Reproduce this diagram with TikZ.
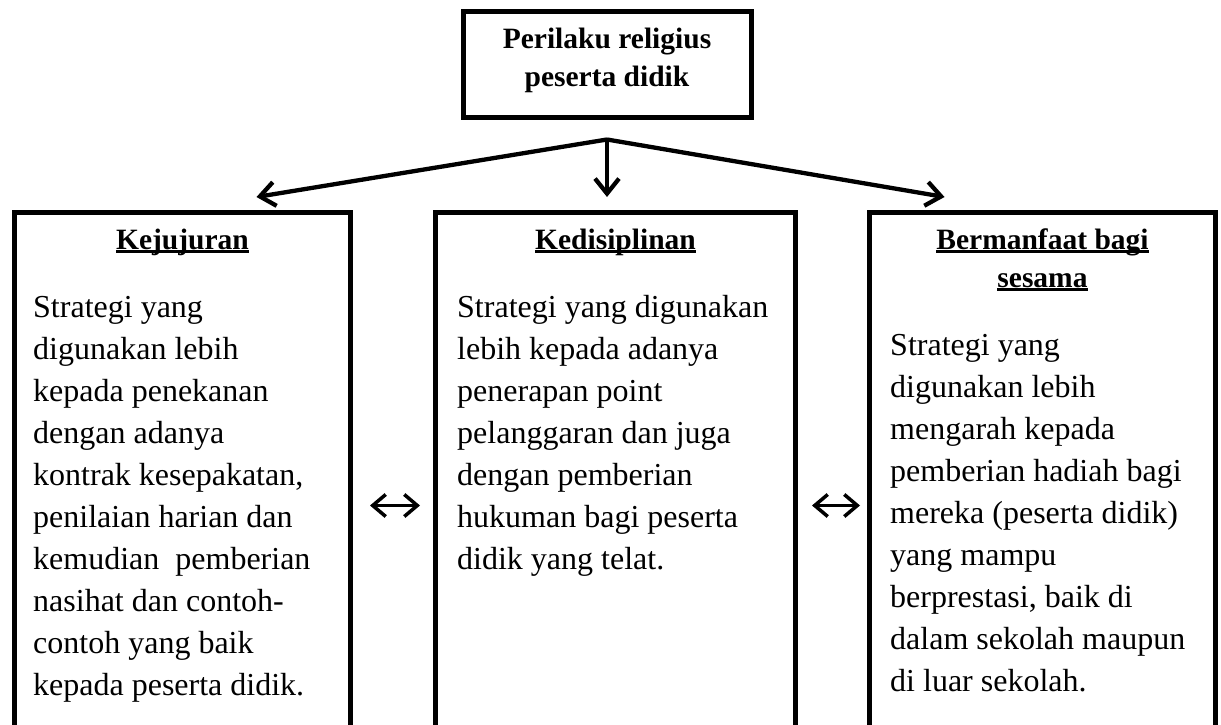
\documentclass[tikz,border=0pt]{standalone}
\usepackage{fontspec}
\setmainfont{Liberation Serif}
\usepackage{tikz}
\usetikzlibrary{positioning}
\usetikzlibrary{arrows.meta}
\tikzstyle{arrow} = [line width=4.3pt,-{Straight Barb[length=15pt,width=24pt]}]
\tikzstyle{twoway} = [line width=3.5pt,{Straight Barb[length=13pt,width=22pt]}-{Straight Barb[length=13pt,width=22pt]}]
\tikzstyle{topbox} = [draw,line width=5pt,minimum width=288pt,minimum height=105pt,inner sep=0pt]
\tikzstyle{colbox} = [draw,line width=5pt,anchor=north west,minimum height=586pt,inner sep=0pt]
\tikzstyle{head} = [inner sep=0pt,anchor=base,font=\headfont]
\tikzstyle{body} = [inner sep=0pt,anchor=base west,font=\bodyfont]
\newcommand{\headfont}{\fontsize{29.5pt}{38pt}\selectfont\bfseries}
\newcommand{\bodyfont}{\fontsize{32pt}{42pt}\selectfont}
\newcommand{\ulhead}[1]{\setbox0\hbox{#1}\rlap{\rule[-4pt]{\wd0}{3pt}}\box0}
\newcommand{\leftlines}[1]{\begin{tabular}[t]{@{}l@{}}#1\end{tabular}}
\newcommand{\midlines}[1]{\begin{tabular}[t]{@{}c@{}}#1\end{tabular}}

\begin{document}
\begin{tikzpicture}[x=1pt,y=-1pt]
	\useasboundingbox (0,0) rectangle (1221,725);
	\clip (0,0) rectangle (1221,725);
	\node[topbox] (perilaku) at (607,64.5) {};
	\node[head] (perilakutext) at (607,48.5) {\midlines{Perilaku religius\\peserta didik}};
	\coordinate[below=20pt of perilaku.south] (fork);
	\node[colbox,minimum width=336pt] (kej) at (12,210) {};
	\node[colbox,minimum width=360pt] (kedis) at (433,210) {};
	\node[colbox,minimum width=346pt] (bms) at (867,210) {};
	\node[head] (kejhead) at ([yshift=-39pt]kej.north) {\ulhead{Kejujuran}};
	\node[head] (kedishead) at ([yshift=-39pt]kedis.north) {\ulhead{Kedisiplinan}};
	\node[head] (bmshead) at ([yshift=-39pt]bms.north) {\midlines{\ulhead{Bermanfaat bagi}\\\ulhead{sesama}}};
	\node[body] (kejtext) at ([xshift=21pt,yshift=-107pt]kej.north west) {\leftlines{Strategi yang\\digunakan lebih\\kepada penekanan\\dengan adanya\\kontrak kesepakatan,\\penilaian harian dan\\kemudian\ \ pemberian\\nasihat dan contoh-\\contoh yang baik\\kepada peserta didik.}};
	\node[body] (kedistext) at ([xshift=24pt,yshift=-107pt]kedis.north west) {\leftlines{Strategi yang digunakan\\lebih kepada adanya\\penerapan point\\pelanggaran dan juga\\dengan pemberian\\hukuman bagi peserta\\didik yang telat.}};
	\node[body] (bmstext) at ([xshift=23pt,yshift=-145pt]bms.north west) {\leftlines{Strategi yang\\digunakan lebih\\mengarah kepada\\pemberian hadiah bagi\\mereka (peserta didik)\\yang mampu\\berprestasi, baik di\\dalam sekolah maupun\\di luar sekolah.}};
	% arrows from the top box
	\draw[arrow] (fork) -- ([xshift=74pt,yshift=13pt]kej.north);
	\draw[arrow] (fork) -- ([yshift=13pt]fork |- kedis.north);
	\draw[arrow] (fork) -- ([xshift=-98pt,yshift=13pt]bms.north);
	% links between the columns
	\draw[twoway] ([xshift=17pt]kej.east) -- ([xshift=-13pt]kedis.west);
	\draw[twoway] ([xshift=14pt]kedis.east) -- ([xshift=-7pt]bms.west);
\end{tikzpicture}
\end{document}
